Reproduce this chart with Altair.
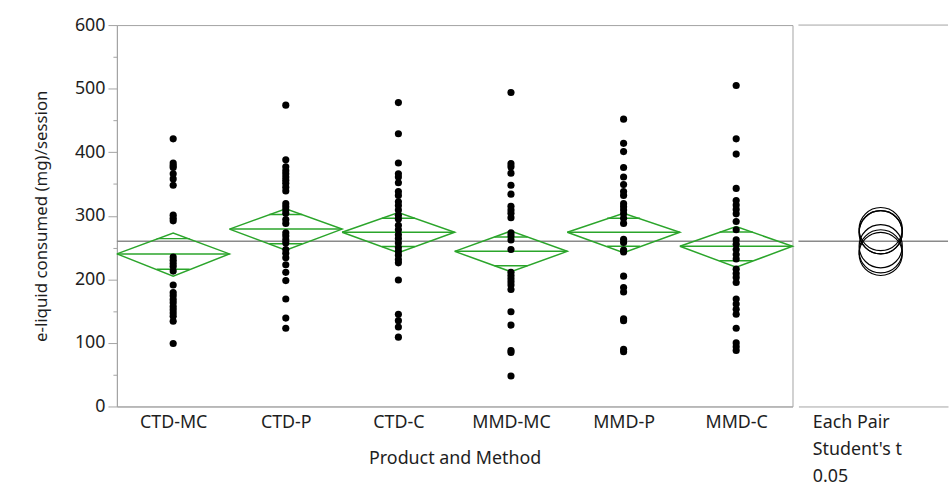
import json
import math
import altair as alt
import pandas as pd

# ---------------- data ----------------
groups = ["CTD-MC", "CTD-P", "CTD-C", "MMD-MC", "MMD-P", "MMD-C"]

ctd_mc = [421, 383, 379, 376, 366, 358, 348, 301, 296, 292, 235, 230, 225, 220, 213,
          191, 179, 174, 168, 163, 157, 152, 147, 142, 134, 99]
ctd_p = [474, 388, 377, 371, 366, 361, 356, 351, 345, 339, 319, 314, 309, 304, 294, 288,
         273, 268, 262, 257, 247, 241, 234, 223, 211, 198, 169, 139, 123]
ctd_c = [478, 429, 383, 366, 361, 352, 338, 332, 322, 316, 309, 301, 295, 285, 278, 270,
         264, 257, 250, 244, 238, 231, 226, 199, 145, 135, 125, 109]
mmd_mc = [494, 382, 377, 367, 348, 334, 315, 309, 304, 297, 273, 268, 262, 247, 211, 206,
          201, 196, 191, 184, 149, 128, 88, 85, 48]
mmd_p = [452, 414, 401, 376, 361, 349, 338, 332, 319, 314, 309, 303, 296, 288, 263, 258,
         246, 243, 205, 187, 180, 138, 135, 90, 86]
mmd_c = [505, 421, 397, 343, 324, 317, 310, 303, 291, 278, 262, 255, 247, 239, 232, 216,
         209, 203, 195, 169, 161, 153, 145, 123, 100, 94, 88]

group_means = [240, 279, 274, 244, 274, 252]
ci_lower = [205, 246, 242, 212, 242, 219]
ci_upper = [273, 311, 305, 276, 304, 283]
grand_mean = 260

y_ticks = [0, 100, 200, 300, 400, 500, 600]
x_title = "Product and Method"
y_title = "e-liquid consumed (mg)/session"
compare_title = ["Each Pair", "Student's t", "\u00a00.05"]

# ---------------- styling ----------------
FONT = "Noto Sans"
TEXT = "#1e1e1e"
GREEN = "#2ba52b"
FRAME = "#a3a3a3"
MEANLINE = "#8a8a8a"

# ---------------- tables built from the lists ----------------
series = [ctd_mc, ctd_p, ctd_c, mmd_mc, mmd_p, mmd_c]
pts = pd.DataFrame([{"x": i, "y": v, "group": g}
                    for i, (g, vals) in enumerate(zip(groups, series)) for v in vals])

half = 0.5  # half of a category band
dia_rows, mean_rows, ovl_rows = [], [], []
for i, g in enumerate(groups):
    m, lo, hi = group_means[i], ci_lower[i], ci_upper[i]
    for k, (dx, yy) in enumerate([(-half, m), (0, hi), (half, m), (0, lo), (-half, m)]):
        dia_rows.append({"group": g, "k": k, "x": i + dx, "y": yy})
    mean_rows.append({"x": i - half, "x2": i + half, "y": m})
    d = (hi - lo) / 2 / math.sqrt(2)
    w = half * (1 - 1 / math.sqrt(2))
    ovl_rows.append({"x": i - w, "x2": i + w, "y": m + d})
    ovl_rows.append({"x": i - w, "x2": i + w, "y": m - d})
dia = pd.DataFrame(dia_rows)
means_df = pd.DataFrame(mean_rows)
ovl = pd.DataFrame(ovl_rows)
gm = pd.DataFrame({"y": [grand_mean]})
top = pd.DataFrame({"y": [y_ticks[-1]]})
circ = pd.DataFrame({"panel": compare_title[0], "y": group_means})

step = y_ticks[1] - y_ticks[0]
y_values = sorted(set(y_ticks + [t + step / 2 for t in y_ticks[:-1]]))
yscale = alt.Scale(domain=[y_ticks[0], y_ticks[-1]], nice=False, zero=False)
xscale = alt.Scale(domain=[-half, len(groups) - half], nice=False, zero=False)

y_axis = alt.Axis(
    values=y_values,
    labelExpr=f"datum.value % {step} === 0 ? datum.label : ''",
    tickSize={"condition": {"test": f"datum.value % {step} === 0", "value": 9}, "value": 4},
    labelPadding=3, grid=False, domainColor=FRAME, tickColor=FRAME,
    title=y_title, titleFontSize=17, titlePadding=24,
)
x_axis = alt.Axis(
    values=list(range(len(groups))),
    labelExpr=f"{json.dumps(groups)}[datum.value]",
    ticks=False, grid=False, domainColor=FRAME, labelFlush=False,
    labelPadding=7, title=x_title, titlePadding=19,
)

X = alt.X("x:Q", scale=xscale, axis=x_axis)
Y = alt.Y("y:Q", scale=yscale, axis=y_axis)

l_gm = alt.Chart(gm).mark_rule(color=MEANLINE, strokeWidth=1.5).encode(y=Y)
l_dia = alt.Chart(dia).mark_line(color=GREEN, strokeWidth=1.5).encode(
    x=X, y=Y, detail="group:N", order="k:Q")
l_mean = alt.Chart(means_df).mark_rule(color=GREEN, strokeWidth=1.5).encode(
    x=X, x2="x2:Q", y=Y)
l_ovl = alt.Chart(ovl).mark_rule(color=GREEN, strokeWidth=1.5).encode(
    x=X, x2="x2:Q", y=Y)
l_pts = alt.Chart(pts).mark_circle(color="black", size=52, opacity=1).encode(x=X, y=Y)

left = alt.layer(l_gm, l_dia, l_mean, l_ovl, l_pts).properties(
    width=682, height=385, view=alt.ViewBackground(stroke=FRAME))

Yr = alt.Y("y:Q", scale=yscale, axis=None)
r_gm = alt.Chart(gm).mark_rule(color=MEANLINE, strokeWidth=1.5).encode(y=Yr)
r_top = alt.Chart(top).mark_rule(color=FRAME, strokeWidth=1).encode(y=Yr)
r_circ = alt.Chart(circ).mark_point(shape="circle", filled=False, size=1900,
                                    color="black", strokeWidth=1.2, opacity=1).encode(
    x=alt.X("panel:N", scale=alt.Scale(type="point", align=0.55, padding=0.5),
            axis=alt.Axis(labels=False, ticks=False, grid=False, domainColor=FRAME,
                          title=compare_title, titleAnchor="start", titleAlign="left",
                          titleX=14, titleY=21.5, titleBaseline="alphabetic",
                          titleLineHeight=27, titleFontSize=18)),
    y=Yr)
right = alt.layer(r_gm, r_top, r_circ).properties(
    width=151, height=385, view=alt.ViewBackground(stroke="transparent"))

chart = alt.hconcat(left, right, spacing=0).resolve_scale(
    x="independent", y="independent"
).properties(
    padding={"left": 32, "top": 13, "right": 0, "bottom": 0}, background="white"
).configure_axis(
    labelFont=FONT, titleFont=FONT, labelFontSize=18, titleFontSize=18,
    labelColor=TEXT, titleColor=TEXT, titleFontWeight="normal",
)

chart.save("out.html", embed_options={"renderer": "svg", "actions": False})
